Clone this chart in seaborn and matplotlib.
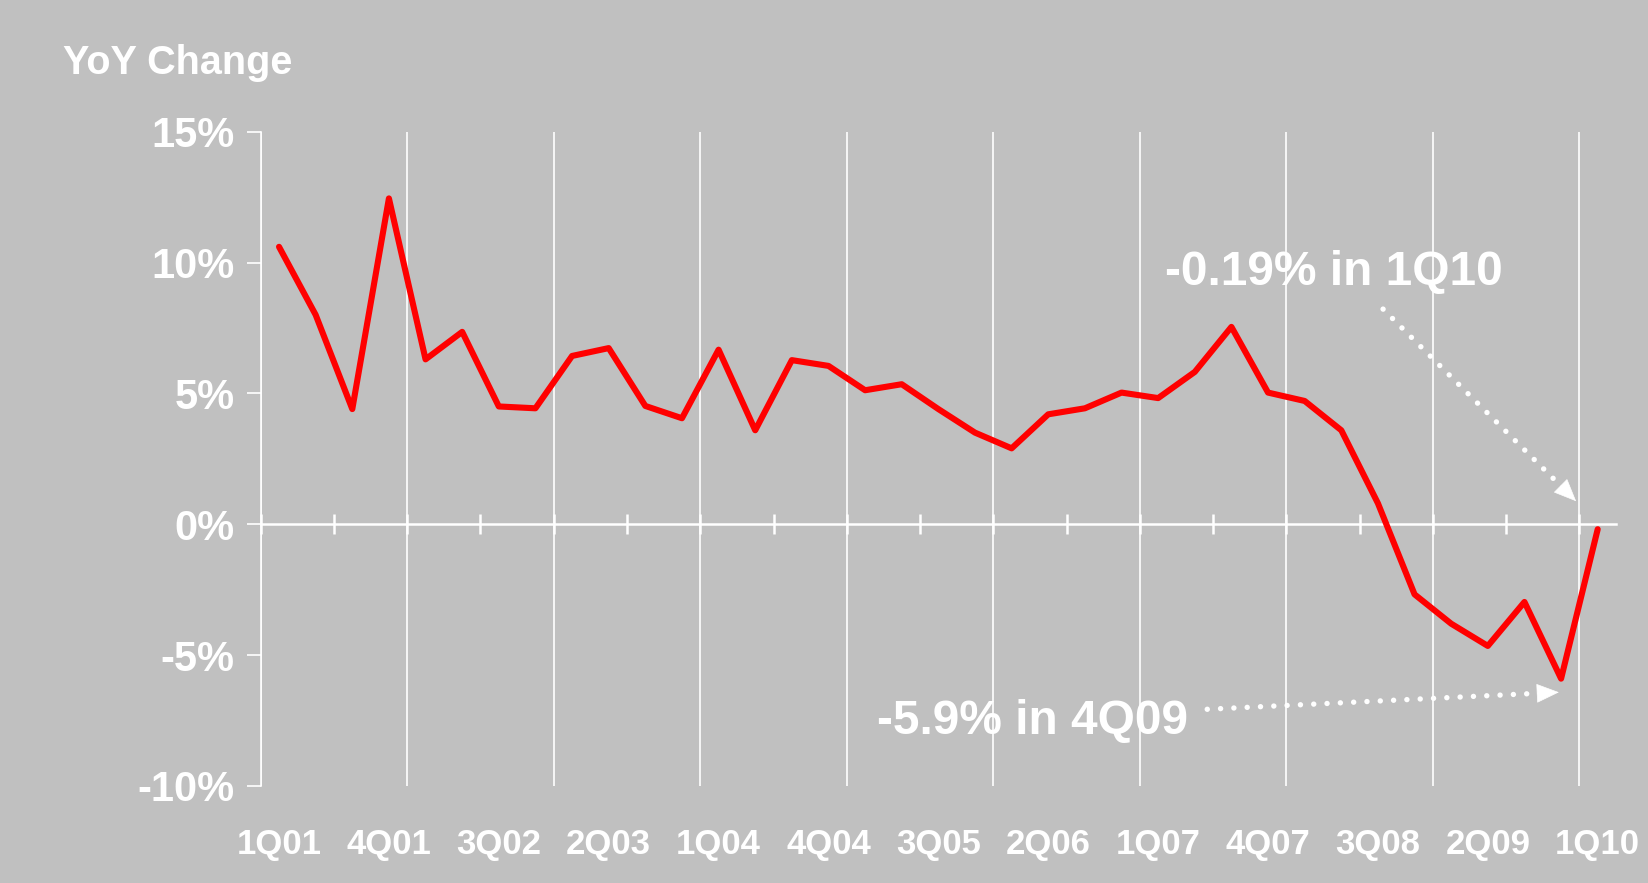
import numpy as np
import pandas as pd
import matplotlib
matplotlib.use("Agg")
import matplotlib.pyplot as plt
import seaborn as sns

# ---------------- data ----------------
quarters = ["1Q01", "2Q01", "3Q01", "4Q01", "1Q02", "2Q02", "3Q02", "4Q02",
            "1Q03", "2Q03", "3Q03", "4Q03", "1Q04", "2Q04", "3Q04", "4Q04",
            "1Q05", "2Q05", "3Q05", "4Q05", "1Q06", "2Q06", "3Q06", "4Q06",
            "1Q07", "2Q07", "3Q07", "4Q07", "1Q08", "2Q08", "3Q08", "4Q08",
            "1Q09", "2Q09", "3Q09", "4Q09", "1Q10"]
yoy_change = [10.6, 8.0, 4.4, 12.45, 6.3, 7.35, 4.5, 4.43,
              6.43, 6.73, 4.52, 4.05, 6.67, 3.59, 6.27, 6.05,
              5.12, 5.35, 4.4, 3.5, 2.9, 4.2, 4.43, 5.03,
              4.82, 5.82, 7.54, 5.03, 4.71, 3.59, 0.8, -2.68,
              -3.8, -4.65, -2.97, -5.9, -0.19]
y_ticks = [-10, -5, 0, 5, 10, 15]
y_tick_labels = ["-10%", "-5%", "0%", "5%", "10%", "15%"]
label_every = 3
title_text = "YoY Change"
note_top = "-0.19% in 1Q10"
note_bottom = "-5.9% in 4Q09"

df = pd.DataFrame({"pos": np.arange(len(quarters)), "quarter": quarters,
                   "yoy": yoy_change})

# ---------------- style ----------------
BG = "#c0c0c0"
sns.set_style("white", {"axes.facecolor": BG, "figure.facecolor": BG})
plt.rcParams["font.family"] = ["Liberation Sans", "DejaVu Sans"]
plt.rcParams["font.weight"] = "bold"

fig = plt.figure(figsize=(16.48, 8.83), dpi=100)
fig.patch.set_facecolor(BG)
left, right, bottom, top = 0.1582, 0.9806, 0.1099, 0.8509
ax = fig.add_axes([left, bottom, right - left, top - bottom])
ax.set_facecolor(BG)

n = len(quarters)
xmin, xmax = -0.5, n - 0.5
ymin, ymax = y_ticks[0], y_ticks[-1]

sns.lineplot(data=df, x="pos", y="yoy", ax=ax, color="#ff0000", lw=4.4,
             solid_capstyle="round", zorder=5)

ax.set_xlim(xmin, xmax)
ax.set_ylim(ymin, ymax)
ax.set_axisbelow(True)

# spines
for s in ["top", "right", "bottom"]:
    ax.spines[s].set_visible(False)
ax.spines["left"].set_color("white")
ax.spines["left"].set_linewidth(1.2)

# y ticks
ax.set_yticks(y_ticks)
ax.set_yticklabels(y_tick_labels)
ax.tick_params(axis="y", direction="out", length=10, width=1.2, color="white",
               labelcolor="white", labelsize=30, pad=9, left=True)

# x tick labels at bottom (every 3 quarters)
ax.set_xticks(df["pos"][::label_every])
ax.set_xticklabels(df["quarter"][::label_every])
ax.tick_params(axis="x", which="major", length=0, labelcolor="white",
               labelsize=25, pad=30)
ax.set_xlabel("")
ax.set_ylabel("")

# vertical gridlines every 4 quarters
ax.set_xticks(np.arange(xmin, xmax, 4), minor=True)
ax.tick_params(axis="x", which="minor", length=0)
ax.grid(False)
ax.xaxis.grid(True, which="minor", color="white", lw=1.2)

# zero axis line with crossing tick marks every 2 quarters
zero_loc = (0 - ymin) / (ymax - ymin)
sec = ax.secondary_xaxis(zero_loc)
sec.set_xticks(np.arange(xmin, xmax, 2))
sec.tick_params(axis="x", direction="inout", length=14, width=1.8,
                color="white", labelbottom=False, labeltop=False)
sec.spines["bottom"].set_color("white")
sec.spines["bottom"].set_linewidth(1.8)

# title
fig.text(63 / 1648, 1 - 63 / 883, title_text, color="white", fontsize=28.5,
         fontweight="bold", ha="left", va="center")

# annotations
ax.text(24.19, 9.6, note_top, color="white", fontsize=34.5,
        fontweight="bold", ha="left", va="center")
ax.text(16.32, -7.55, note_bottom, color="white", fontsize=34.5,
        fontweight="bold", ha="left", va="center")


def dotted_arrow(start, tip):
    # dotted shaft, stopping just short of the head tip
    end = (tip[0] + 0.05 * (start[0] - tip[0]),
           tip[1] + 0.05 * (start[1] - tip[1]))
    ax.plot([start[0], end[0]], [start[1], end[1]], color="white", lw=3.9,
            ls=(0, (0.01, 2.45)), dash_capstyle="round", zorder=6)
    # solid head
    back = (tip[0] + 0.06 * (start[0] - tip[0]),
            tip[1] + 0.06 * (start[1] - tip[1]))
    ax.annotate("", xy=tip, xytext=back,
                arrowprops=dict(arrowstyle="-|>,head_length=0.75,head_width=0.32",
                                mutation_scale=20, color="white", lw=0.5,
                                shrinkA=0, shrinkB=0), zorder=7)


dotted_arrow((30.14, 8.22), (35.41, 0.88))
dotted_arrow((25.34, -7.07), (34.94, -6.42))

fig.savefig("out.png", dpi=100, facecolor=BG)
